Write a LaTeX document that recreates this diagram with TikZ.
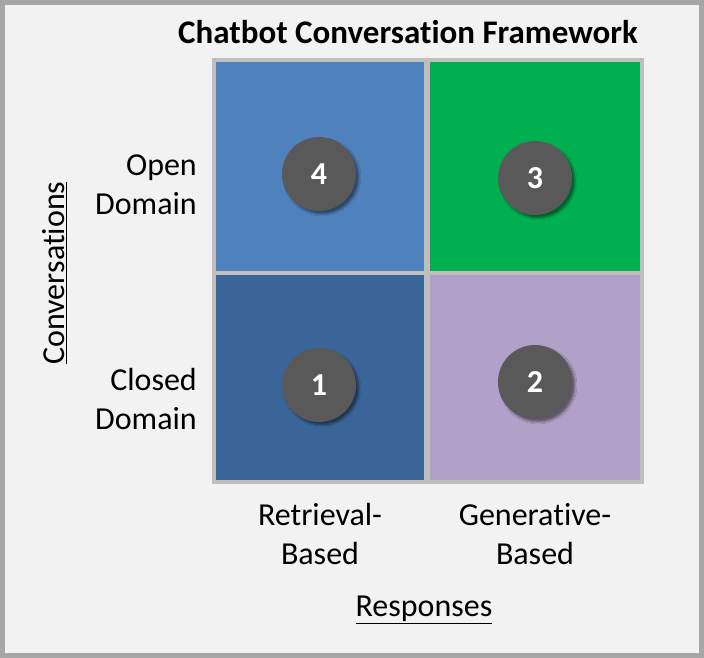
\documentclass[tikz,border=0pt]{standalone}
\usepackage{fontspec}
\setmainfont{Carlito}[Ligatures=NoCommon]
\usetikzlibrary{shadows.blur}
\definecolor{framegray}{HTML}{A6A6A6}
\definecolor{bgray}{HTML}{F2F2F2}
\definecolor{gridgray}{HTML}{BFBFBF}
\definecolor{qblue}{HTML}{4F81BD}
\definecolor{qdblue}{HTML}{3A6598}
\definecolor{qgreen}{HTML}{00B050}
\definecolor{qpurple}{HTML}{B1A0C7}
\definecolor{cgray}{HTML}{595959}
\tikzset{
  quad/.style={fill=#1, draw=none},
  badge/.style={circle, fill=cgray, minimum size=74pt, inner sep=0pt, text=white,
    font=\fontsize{32}{38}\selectfont\bfseries,
    blur shadow={shadow xshift=3pt, shadow yshift=-3pt, shadow blur steps=6, shadow opacity=45}},
  lbl/.style={font=\fontsize{32}{39}\selectfont, inner sep=0pt},
}
\begin{document}
\begin{tikzpicture}[x=1pt,y=-1pt]
\useasboundingbox (0,0) rectangle (704,658);
\fill[bgray] (0,0) rectangle (704,658);
\draw[framegray, line width=5pt] (2.5,2.5) rectangle (701.5,655.5);
% grid
\fill[gridgray] (212,58) rectangle (644,484);
\fill[qblue] (216,62) rectangle (424,271);
\fill[qgreen] (430,62) rectangle (640,271);
\fill[qdblue] (216,275) rectangle (424,480);
\fill[qpurple] (430,275) rectangle (640,480);
% title
\node[inner sep=0pt, font=\fontsize{33}{40}\selectfont\bfseries] (title) at (408,32) {Chatbot Conversation Framework};
% badges
\node[badge] (b4) at (319,174) {4};
\node[badge] (b3) at (535,178) {3};
\node[badge] (b1) at (319,385) {1};
\node[badge] (b2) at (535,382) {2};
% row labels
\node[lbl, align=right, anchor=east] (open) at (197,185) {Open\\Domain};
\node[lbl, align=right, anchor=east] (closed) at (197,399) {Closed\\Domain};
\node[lbl, rotate=90] (conv) at (55,273) {\underline{Conversations}};
% column labels
\node[lbl, align=center] (ret) at (320,534) {Retrieval-\\Based};
\node[lbl, align=center] (gen) at (535,534) {Generative-\\Based};
\node[lbl] (resp) at (424,610) {\underline{Responses}};
\end{tikzpicture}
\end{document}
